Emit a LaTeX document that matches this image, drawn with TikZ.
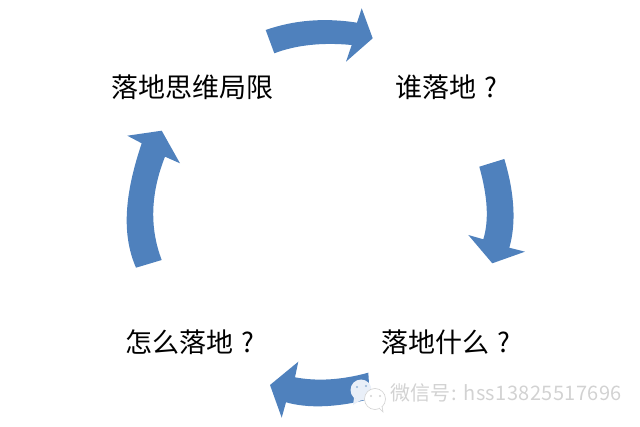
\documentclass[tikz,border=0pt]{standalone}
\usepackage{xcolor}
\usepackage{fontspec}
\usepackage{tikz}
\setmainfont{Noto Sans CJK SC}
\definecolor{lpblue}{HTML}{4F81BD}
\definecolor{lpmark}{HTML}{D2D2D2}
\definecolor{lppale}{HTML}{E9EFF8}

\begin{document}
\begin{tikzpicture}[
  x=1pt, y=-1pt,
  step label/.style={font=\fontsize{27}{30}\selectfont, text=black, inner sep=0pt},
  bend arrow/.style={fill=lpblue, draw=none},
  mark text/.style={font=\fontsize{20}{22}\selectfont\addfontfeature{LetterSpace=2}, text=lpmark, inner sep=0pt, anchor=west},
  mark bubble/.style={fill=white, draw=lpmark, line width=0.6pt},
]
\useasboundingbox (0,0) rectangle (640,427);

% ===== labels =====
\node[step label] (limit) at (192,87)  {落地思维局限};
\node[step label] (who)   at (446,87)  {谁落地\hspace{0.3em}?};
\node[step label] (what)  at (446,342) {落地什么\hspace{0.3em}?};
\node[step label] (how)   at (190,342) {怎么落地\hspace{0.3em}?};

% ===== arrows, clockwise =====
% top
\fill[bend arrow] (265.7,30) .. controls (294.3,20) and (324.7,17.6) .. (357,22.7)
  -- (361.7,8.3) -- (372.7,38.3) -- (346,61.7) -- (351.7,45)
  .. controls (321.9,42.2) and (296.1,45) .. (274.3,53.3) -- cycle;
% right
\fill[bend arrow] (479.3,166.7) -- (504.3,159)
  .. controls (514.6,193) and (516.3,223.9) .. (509.3,247.7)
  -- (525,251.7) -- (492.3,263.3) -- (468.3,235) -- (483.3,239.3)
  .. controls (489.2,220) and (487.5,196) .. cycle;
% bottom
\fill[bend arrow] (368.3,372.7) .. controls (341.7,380) and (317.2,381.5) .. (295,377.3)
  -- (298.3,361.7) -- (270,385) -- (281.7,417.7) -- (286,402.3)
  .. controls (307.3,408.3) and (335.3,407.9) .. (370,399) -- cycle;
% left
\fill[bend arrow] (136,267.7) -- (161.7,260)
  .. controls (149.4,227.8) and (150.5,193.3) .. (165,156.7)
  -- (180,163.3) -- (161.7,130.7) -- (127.3,135.7) -- (141.7,143.3)
  .. controls (125.7,190.8) and (120.5,232.3) .. cycle;

% ===== watermark =====
\fill[lppale] (361,390) circle (10.5);
\fill[lppale] (354,398) -- (353,405) -- (361,400) -- cycle;
\fill[lpblue!60] (357,387) circle (1.1) (366,386) circle (1.1);
\draw[mark bubble] (375,399) circle (10.5);
\draw[mark bubble] (379,408) -- (383,412) -- (382,406);
\fill[lpmark] (371,396) circle (1.1) (380,396) circle (1.1);
\node[mark text] (mark) at (390,393) {微信号: hss13825517696};

\end{tikzpicture}
\end{document}
